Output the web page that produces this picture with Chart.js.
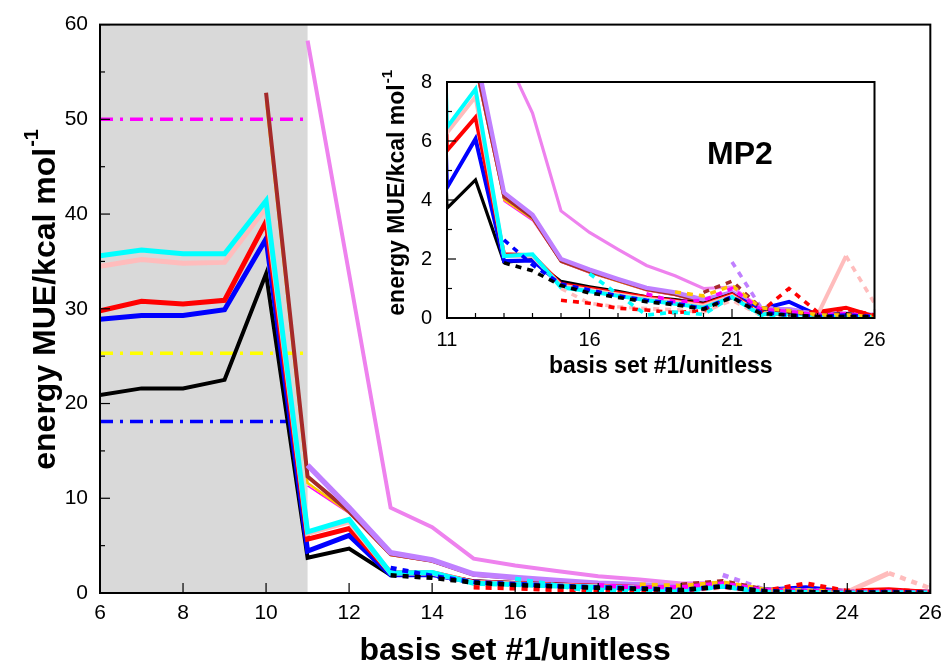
<!DOCTYPE html>
<html>
<head>
<meta charset="utf-8">
<title>MP2 basis set MUE</title>
<script src="https://cdn.jsdelivr.net/npm/chart.js@4.4.0/dist/chart.umd.min.js"></script>
<style>
  html, body { margin: 0; padding: 0; background: #fff; }
  #wrap  { position: relative; width: 950px; height: 667px; }
  #main  { position: absolute; left: 0; top: 0; }
  #inset { position: absolute; left: 370px; top: 55px; }
</style>
</head>
<body>
<div id="wrap">
  <canvas id="main" width="950" height="667"></canvas>
  <canvas id="inset" width="530" height="330"></canvas>
</div>
<script>
'use strict';

// ── DATA ──────────────────────────────────────────────────────────────────
// x = basis set index 6..26, y = energy MUE in kcal/mol (null = no point)

var basisSets = [6, 7, 8, 9, 10, 11, 12, 13, 14, 15, 16, 17, 18, 19, 20, 21, 22, 23, 24, 25, 26];

var blackSolid   = [20.9, 21.6, 21.6, 22.5, 33.7, 3.72, 4.68, 1.89, 1.98, 1.24, 1.06, 0.9, 0.72, 0.62, 0.5, 0.82, 0.2, 0.25, 0.1, 0.15, 0.05];
var blueSolid    = [28.9, 29.3, 29.3, 29.9, 37.4, 4.42, 6.07, 1.93, 1.95, 1.15, 0.95, 0.8, 0.65, 0.52, 0.38, 0.78, 0.3, 0.55, 0.1, 0.1, 0.05];
var redSolid     = [29.8, 30.8, 30.5, 30.9, 39.2, 5.68, 6.8, 2.16, 2.13, 1.15, 1.0, 0.85, 0.7, 0.58, 0.45, 0.8, 0.15, 0.15, 0.2, 0.35, 0.05];
var pinkSolid    = [34.5, 35.2, 34.8, 34.9, 40.7, 6.28, 7.5, 2.1, 2.1, 1.1, 0.95, 0.8, 0.65, 0.55, 0.42, 0.75, 0.15, 0.2, 0.1, 2.1, null];
var cyanSolid    = [35.6, 36.2, 35.8, 35.8, 41.4, 6.46, 7.76, 2.1, 2.16, 1.04, 0.91, 0.75, 0.6, 0.48, 0.35, 0.7, 0.12, 0.18, 0.05, 0.05, 0.02];
var brownSolid   = [null, null, null, null, 52.8, 12.3, 8.6, 4.1, 3.4, 1.93, 1.57, 1.27, 0.97, 0.8, 0.55, 0.82, 0.3, 0.28, 0.12, 0.12, 0.08];
var goldSolid    = [null, null, null, null, 52.0, 11.6, 8.5, 4.0, 3.35, 1.9, 1.54, 1.24, 0.94, 0.78, 0.52, 0.8, 0.28, 0.26, 0.1, 0.1, 0.06];
var magentaSolid = [null, null, null, null, null, 11.3, 8.4, 3.95, 3.3, 1.88, 1.52, 1.22, 0.92, 0.76, 0.5, 0.78, 0.26, 0.25, 0.1, 0.1, 0.05];
var purpleSolid  = [null, null, null, null, null, 13.5, 9.0, 4.25, 3.5, 2.0, 1.64, 1.32, 1.02, 0.87, 0.62, 0.87, 0.3, 0.3, 0.15, 0.15, 0.1];
var violetSolid  = [null, null, null, null, null, 58.3, 33.7, 9.0, 6.95, 3.63, 2.9, 2.33, 1.78, 1.43, 1.0, 1.05, 0.35, 0.3, 0.15, 0.15, 0.1];

var blackDashed   = [null, null, null, null, null, null, null, 1.87, 1.6, 1.1, 0.85, 0.7, 0.55, 0.45, 0.3, 0.7, 0.15, 0.1, 0.05, 0.05, 0.05];
var blueDashed    = [null, null, null, null, null, null, null, 2.65, 1.8, 1.15, 0.95, 0.75, 0.6, 0.5, 0.32, 0.72, 0.2, 0.1, 0.05, 0.1, 0.05];
var redDashed     = [null, null, null, null, null, null, null, null, null, 0.6, 0.5, 0.33, 0.27, 0.18, 0.25, 0.7, 0.2, 1.0, 0.2, 0.3, 0.1];
var pinkDashed    = [null, null, null, null, null, null, null, null, null, 1.0, 0.5, 0.38, 0.32, 0.28, 0.2, 0.6, 0.1, 0.1, null, 2.1, 0.5];
var cyanDashed    = [null, null, null, null, null, null, null, null, null, null, 1.5, 0.8, 0.1, 0.2, 0.12, 0.72, 0.1, 0.08, 0.02, 0.05, 0.03];
var magentaDashed = [null, null, null, null, null, null, null, null, null, null, null, null, 0.82, 0.55, 0.6, 1.0, 0.3, 0.22, 0.1, 0.15, 0.05];
var goldDashed    = [null, null, null, null, null, null, null, null, null, null, null, null, null, 0.88, 0.75, 1.1, 0.35, 0.25, 0.1, 0.1, 0.05];
var brownDashed   = [null, null, null, null, null, null, null, null, null, null, null, null, null, null, 0.87, 1.25, 0.35, 0.2, 0.1, 0.12, 0.05];
var purpleDashed  = [null, null, null, null, null, null, null, null, null, null, null, null, null, null, null, 1.9, 0.38, 0.28, 0.15, 0.1, 0.05];

// reference levels drawn across the shaded range
var refBasisSets = [6, 11];
var refMagenta   = [50.0, 50.0];
var refYellow    = [25.3, 25.3];
var refBlue      = [18.1, 18.1];

var shadedRange = [6, 11];

// tick positions
var mainXTicks       = [6, 8, 10, 12, 14, 16, 18, 20, 22, 24, 26];
var mainYTicks       = [0, 10, 20, 30, 40, 50, 60];
var mainYMinorTicks  = [5, 15, 25, 35, 45, 55];
var insetXTicks      = [11, 16, 21, 26];
var insetXMinorTicks = [12, 13, 14, 15, 17, 18, 19, 20, 22, 23, 24, 25];
var insetYTicks      = [0, 2, 4, 6, 8];
var insetYMinorTicks = [1, 3, 5, 7];

// ── STYLES ────────────────────────────────────────────────────────────────

var FONT = "'Liberation Sans', Arial, Helvetica, sans-serif";
Chart.defaults.font.family = FONT;
Chart.defaults.color = '#000';

// first entry is drawn on top
var DASHED = [
  { values: blackDashed,   color: '#000000' },
  { values: blueDashed,    color: '#0000ff' },
  { values: cyanDashed,    color: '#00ffff' },
  { values: redDashed,     color: '#ff0000' },
  { values: pinkDashed,    color: '#ffbcbc' },
  { values: magentaDashed, color: '#ff00ff' },
  { values: goldDashed,    color: '#ffc800' },
  { values: brownDashed,   color: '#a52a2a' },
  { values: purpleDashed,  color: '#c080ff' },
];

var SOLID = [
  { values: cyanSolid,    color: '#00ffff', width: 5 },
  { values: pinkSolid,    color: '#ffbcbc', width: 5 },
  { values: redSolid,     color: '#ff0000', width: 5 },
  { values: blueSolid,    color: '#0000ff', width: 5 },
  { values: blackSolid,   color: '#000000', width: 4 },
  { values: purpleSolid,  color: '#c080ff', width: 5.5 },
  { values: brownSolid,   color: '#a52a2a', width: 4 },
  { values: goldSolid,    color: '#ffc800', width: 2.5 },
  { values: magentaSolid, color: '#ff00ff', width: 1.5 },
  { values: violetSolid,  color: '#ee82ee', width: 4 },
];

var REFS = [
  { values: refMagenta, color: '#ff00ff' },
  { values: refYellow,  color: '#ffff00' },
  { values: refBlue,    color: '#0000ff' },
];

function points(values, xs) {
  return values.map(function (v, i) { return { x: xs[i], y: v }; });
}

function buildDatasets(scale, withRefs) {
  var sets = [];
  DASHED.forEach(function (s) {
    sets.push({
      data: points(s.values, basisSets),
      borderColor: s.color,
      borderWidth: 4.5 * scale,
      borderDash: [6, 6],
    });
  });
  SOLID.forEach(function (s) {
    sets.push({
      data: points(s.values, basisSets),
      borderColor: s.color,
      borderWidth: s.width * scale,
    });
  });
  if (withRefs) {
    REFS.forEach(function (s) {
      sets.push({
        data: points(s.values, refBasisSets),
        borderColor: s.color,
        borderWidth: 3.5,
        borderDash: [13, 7, 3, 7],
      });
    });
  }
  return sets;
}

// ── DRAWING HELPERS ───────────────────────────────────────────────────────

function line(ctx, x1, y1, x2, y2) {
  ctx.beginPath();
  ctx.moveTo(x1, y1);
  ctx.lineTo(x2, y2);
  ctx.stroke();
}

// gnuplot style: frame + ticks pointing into the plot
function drawFrame(chart, t) {
  var ctx = chart.ctx, a = chart.chartArea;
  var xs = chart.scales.x, ys = chart.scales.y;
  ctx.save();
  ctx.strokeStyle = '#000';
  ctx.lineWidth = 1.2;
  t.xMajor.forEach(function (v) { var p = xs.getPixelForValue(v); line(ctx, p, a.bottom, p, a.bottom - t.major); });
  t.xMinor.forEach(function (v) { var p = xs.getPixelForValue(v); line(ctx, p, a.bottom, p, a.bottom - t.minor); });
  t.yMajor.forEach(function (v) { var p = ys.getPixelForValue(v); line(ctx, a.left, p, a.left + t.major, p); });
  t.yMinor.forEach(function (v) { var p = ys.getPixelForValue(v); line(ctx, a.left, p, a.left + t.minor, p); });
  ctx.lineWidth = 2;
  ctx.strokeRect(a.left, a.top, a.right - a.left, a.bottom - a.top);
  ctx.restore();
}

function drawYTitle(ctx, cx, cy, size, supSize, text, sup) {
  ctx.save();
  ctx.translate(cx, cy);
  ctx.rotate(-Math.PI / 2);
  ctx.fillStyle = '#000';
  ctx.textBaseline = 'middle';
  ctx.textAlign = 'left';
  ctx.font = 'bold ' + size + 'px ' + FONT;
  var w = ctx.measureText(text).width;
  ctx.fillText(text, -w / 2, 0);
  ctx.font = 'bold ' + supSize + 'px ' + FONT;
  ctx.fillText(sup, w / 2 + 1, -size * 0.42);
  ctx.restore();
}

var shadePlugin = {
  id: 'shade',
  beforeDatasetsDraw: function (chart) {
    var ctx = chart.ctx, a = chart.chartArea, xs = chart.scales.x;
    var x1 = xs.getPixelForValue(shadedRange[0]);
    var x2 = xs.getPixelForValue(shadedRange[1]);
    ctx.save();
    ctx.fillStyle = '#d9d9d9';
    ctx.fillRect(x1, a.top, x2 - x1, a.bottom - a.top);
    ctx.restore();
  },
};

function baseScales(o) {
  return {
    x: {
      type: 'linear', min: o.xMin, max: o.xMax,
      grid: { display: false, drawTicks: false },
      border: { display: false },
      ticks: { stepSize: o.xStep, autoSkip: false, maxRotation: 0, padding: o.xPad, font: { size: o.tickSize } },
      title: { display: true, text: 'basis set #1/unitless', font: { size: o.titleSize, weight: 'bold' }, padding: { top: 0, bottom: o.titlePad } },
      afterBuildTicks: o.xTicks ? function (s) { s.ticks = o.xTicks.map(function (v) { return { value: v }; }); } : undefined,
      afterFit: function (s) { s.height = o.xHeight; },
    },
    y: {
      min: o.yMin, max: o.yMax,
      grid: { display: false, drawTicks: false },
      border: { display: false },
      ticks: { stepSize: o.yStep, padding: o.yPad, font: { size: o.tickSize } },
      afterFit: function (s) { s.width = o.yWidth; },
    },
  };
}

// ── MAIN CHART ────────────────────────────────────────────────────────────

new Chart(document.getElementById('main'), {
  type: 'line',
  data: { datasets: buildDatasets(1, true) },
  options: {
    responsive: false,
    animation: false,
    layout: { padding: { left: 0, right: 16, top: 24, bottom: 0 } },
    elements: { point: { radius: 0 }, line: { tension: 0 } },
    plugins: { legend: { display: false }, tooltip: { enabled: false } },
    scales: baseScales({
      xMin: 6, xMax: 26, xStep: 2, xPad: 8, xHeight: 74, titleSize: 32, titlePad: -3,
      yMin: 0, yMax: 60, yStep: 10, yPad: 12, yWidth: 100, tickSize: 21,
    }),
  },
  plugins: [shadePlugin, {
    id: 'mainFrame',
    afterDraw: function (chart) {
      drawFrame(chart, { xMajor: mainXTicks, xMinor: [], yMajor: mainYTicks, yMinor: mainYMinorTicks, major: 10, minor: 5 });
      var a = chart.chartArea;
      drawYTitle(chart.ctx, 46, (a.top + a.bottom) / 2, 32, 20, 'energy MUE/kcal mol', '-1');
    },
  }],
});

// ── INSET ─────────────────────────────────────────────────────────────────

new Chart(document.getElementById('inset'), {
  type: 'line',
  data: { datasets: buildDatasets(0.8, false) },
  options: {
    responsive: false,
    animation: false,
    layout: { padding: { left: 0, right: 25.5, top: 17.7, bottom: 0 } },
    elements: { point: { radius: 0 }, line: { tension: 0 } },
    plugins: { legend: { display: false }, tooltip: { enabled: false } },
    scales: baseScales({
      xMin: 11, xMax: 26, xStep: 5, xPad: 10, xHeight: 67, titleSize: 23, titlePad: 5, xTicks: insetXTicks,
      yMin: 0, yMax: 8, yStep: 2, yPad: 15, yWidth: 77, tickSize: 20,
    }),
  },
  plugins: [{
    id: 'insetFrame',
    afterDraw: function (chart) {
      drawFrame(chart, { xMajor: insetXTicks, xMinor: insetXMinorTicks, yMajor: insetYTicks, yMinor: insetYMinorTicks, major: 9, minor: 5 });
      var a = chart.chartArea, ctx = chart.ctx;
      drawYTitle(ctx, 28, (a.top + a.bottom) / 2, 23, 15, 'energy MUE/kcal mol', '-1');
      ctx.save();
      ctx.font = 'bold 32px ' + FONT;
      ctx.fillStyle = '#000';
      ctx.textAlign = 'center';
      ctx.textBaseline = 'middle';
      ctx.fillText('MP2', 370, 100);
      ctx.restore();
    },
  }],
});
</script>
</body>
</html>
